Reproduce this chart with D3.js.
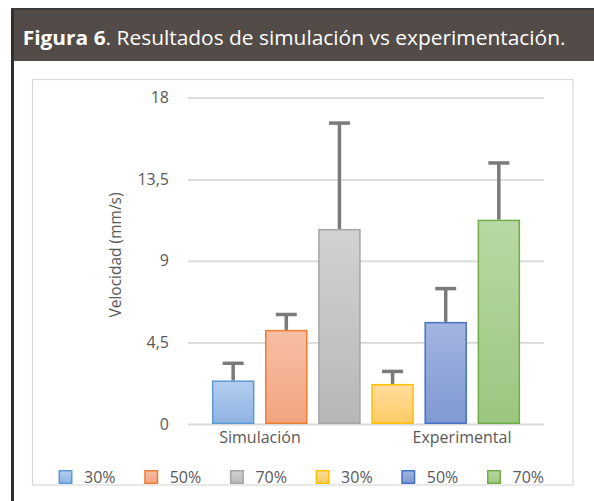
<!DOCTYPE html>
<html>
<head>
<meta charset="utf-8">
<script src="https://cdn.jsdelivr.net/npm/d3@7"></script>
<style>
  body { margin: 0; background: #fff; }
  svg { display: block; font-family: "Open Sans", sans-serif; }
</style>
</head>
<body>
<div id="view"></div>
<script>
var categories = ["Simulación", "Experimental"];
var seriesLabels = ["30%", "50%", "70%", "30%", "50%", "70%"];
var values = [2.36, 5.15, 10.72, 2.17, 5.59, 11.23];
var errors = [0.99, 0.89, 5.88, 0.73, 1.88, 3.17];
var yTicks = [0, 4.5, 9, 13.5, 18];

var fillTop = ["#b3cdef", "#f7bea5", "#d2d2d2", "#ffdc9e", "#a3b5e0", "#b8d9a3"];
var fillBottom = ["#8fb3e2", "#f2a47f", "#b7b7b7", "#ffcb66", "#8099d3", "#9cc680"];
var strokes = ["#5b9bd5", "#ed7d31", "#a5a5a5", "#ffc000", "#4472c4", "#70ad47"];

var W = 594, H = 501;
var plot = {left: 188, right: 544, top: 97.7, bottom: 424};

var svg = d3.select("#view")
    .append("svg")
    .attr("width", W)
    .attr("height", H);

var defs = svg.append("defs");
fillTop.forEach(function(c, i) {
    var g = defs.append("linearGradient")
        .attr("id", "grad" + i)
        .attr("x1", 0).attr("y1", 0).attr("x2", 0).attr("y2", 1);
    g.append("stop").attr("offset", "0%").attr("stop-color", c);
    g.append("stop").attr("offset", "100%").attr("stop-color", fillBottom[i]);
});

// header band + left border
svg.append("rect")
    .attr("x", 11).attr("y", 9)
    .attr("width", W - 11).attr("height", 52)
    .attr("fill", "#534b47");
svg.append("rect")
    .attr("x", 11).attr("y", 9)
    .attr("width", 3).attr("height", H - 9)
    .attr("fill", "#2f2f2f");
svg.append("rect")
    .attr("x", 11).attr("y", 8)
    .attr("width", W - 11).attr("height", 2)
    .attr("fill", "#3a3a3a");

var title = svg.append("text")
    .attr("x", 22.7)
    .attr("y", 45)
    .attr("fill", "#fff")
    .attr("font-size", 20);
title.append("tspan").attr("font-weight", "bold").text("Figura 6");
title.append("tspan").text(". Resultados de simulación vs experimentación.");

// squeeze title to the reference width
var tw = title.node().getBBox().width;
var target = 543;
if (tw > 0) {
    var k = target / tw;
    title.attr("transform", "translate(22.7,0) scale(" + k + ",1) translate(-22.7,0)");
}

// chart frame
svg.append("rect")
    .attr("x", 32.5).attr("y", 79.5)
    .attr("width", 540.5).attr("height", 405.5)
    .attr("fill", "#fff")
    .attr("stroke", "#d9d9d9")
    .attr("stroke-width", 1.2);

var y = d3.scaleLinear()
    .domain([0, 18])
    .range([plot.bottom, plot.top]);

var x = d3.scaleBand()
    .domain(d3.range(values.length))
    .range([plot.left, plot.right])
    .paddingInner(0.2)
    .paddingOuter(0.45);

var xCat = d3.scalePoint()
    .domain(categories)
    .range([260, 462]);

var yAxis = svg.append("g")
    .attr("transform", "translate(" + plot.left + ",0)")
    .call(d3.axisLeft(y)
        .tickValues(yTicks)
        .tickSize(-(plot.right - plot.left))
        .tickPadding(19)
        .tickFormat(function(d) { return String(d).replace(".", ","); }));
yAxis.select(".domain").remove();
yAxis.selectAll(".tick line")
    .attr("stroke", "#d9d9d9")
    .attr("stroke-width", 1.8);
yAxis.selectAll(".tick text")
    .attr("fill", "#595959")
    .attr("font-size", 16)
    .attr("font-family", "Open Sans, sans-serif");

svg.append("text")
    .attr("transform", "translate(121,255) rotate(-90)")
    .attr("text-anchor", "middle")
    .attr("fill", "#595959")
    .attr("font-size", 15.5)
    .text("Velocidad (mm/s)");

// bars
svg.append("g")
    .selectAll("rect")
    .data(values)
    .enter().append("rect")
    .attr("x", function(d, i) { return x(i) + 0.75; })
    .attr("y", function(d) { return y(d); })
    .attr("width", x.bandwidth() - 1.5)
    .attr("height", function(d) { return y(0) - y(d) - 0.75; })
    .attr("fill", function(d, i) { return "url(#grad" + i + ")"; })
    .attr("stroke", function(d, i) { return strokes[i]; })
    .attr("stroke-width", 1.5);

// error bars (plus only)
var eb = svg.append("g")
    .attr("stroke", "#7a7a7a")
    .attr("stroke-width", 3.5)
    .selectAll("g")
    .data(values)
    .enter().append("g");

eb.append("line")
    .attr("x1", function(d, i) { return x(i) + x.bandwidth() / 2; })
    .attr("x2", function(d, i) { return x(i) + x.bandwidth() / 2; })
    .attr("y1", function(d) { return y(d) - 0.75; })
    .attr("y2", function(d, i) { return y(d + errors[i]); });

eb.append("line")
    .attr("x1", function(d, i) { return x(i) + x.bandwidth() / 2 - 10.5; })
    .attr("x2", function(d, i) { return x(i) + x.bandwidth() / 2 + 10.5; })
    .attr("y1", function(d, i) { return y(d + errors[i]); })
    .attr("y2", function(d, i) { return y(d + errors[i]); });

// category labels
svg.append("g")
    .selectAll("text")
    .data(categories)
    .enter().append("text")
    .attr("x", function(d) { return xCat(d); })
    .attr("y", 443)
    .attr("text-anchor", "middle")
    .attr("fill", "#595959")
    .attr("font-size", 16)
    .text(function(d) { return d; });

// legend
var legend = svg.append("g")
    .selectAll("g")
    .data(seriesLabels)
    .enter().append("g")
    .attr("transform", function(d, i) { return "translate(" + (58.5 + i * 85.7) + ",470)"; });

legend.append("rect")
    .attr("x", 0.75).attr("y", 0.75)
    .attr("width", 12.5).attr("height", 12.5)
    .attr("fill", function(d, i) { return "url(#grad" + i + ")"; })
    .attr("stroke", function(d, i) { return strokes[i]; })
    .attr("stroke-width", 1.5);

legend.append("text")
    .attr("x", 25.5)
    .attr("y", 12.7)
    .attr("fill", "#595959")
    .attr("font-size", 16)
    .text(function(d) { return d; });
</script>
</body>
</html>
